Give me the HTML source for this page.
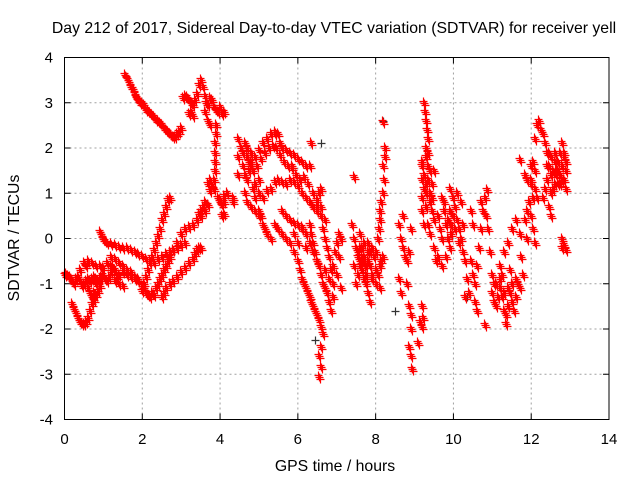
<!DOCTYPE html>
<html><head><meta charset="utf-8"><style>
html,body{margin:0;padding:0;background:#fff;}
svg{display:block;font-family:"Liberation Sans",sans-serif;}
</style></head><body>
<svg id="chart" width="640" height="480" viewBox="0 0 640 480" xmlns="http://www.w3.org/2000/svg">
<rect x="0" y="0" width="640" height="480" fill="#fff"/>
<text x="334" y="33" text-anchor="middle" font-size="15.8" fill="#000">Day 212 of 2017, Sidereal Day-to-day VTEC variation (SDTVAR) for receiver yell</text>
<text x="335" y="471" text-anchor="middle" font-size="15.8" fill="#000">GPS time / hours</text>
<text x="19" y="238" text-anchor="middle" font-size="15.8" fill="#000" transform="rotate(-90 19 238)">SDTVAR / TECUs</text>
<g id="grid"></g>
<g id="ticks"></g>
<g id="marks"></g>
<rect x="64.5" y="57.5" width="544.5" height="362" fill="none" stroke="#000" stroke-width="1"/>
</svg>
<script>
const xTicks = [0, 2, 4, 6, 8, 10, 12, 14];
const yTicks = [-4, -3, -2, -1, 0, 1, 2, 3, 4];
// SDTVAR series (red): times (hours) and values (TECU)
const times = [
1.55,1.6,1.65,1.7,1.75,1.8,1.85,1.9,1.95,2.0,2.05,2.1,2.15,2.2,2.25,2.3,2.35,2.4,2.45,2.5,2.55,2.6,2.65,2.7,2.75,2.8,2.85,2.9,2.95,3.0,
3.05,3.1,3.15,3.2,3.25,3.3,3.35,3.4,3.45,3.5,3.55,3.6,3.65,3.7,3.75,3.8,3.85,3.9,3.95,4.0,4.05,4.1,3.2,3.25,3.3,3.6,3.7,3.75,
3.9,3.9,3.88,3.88,3.87,3.86,3.85,3.8,3.75,3.7,3.75,3.85,3.95,4.0,4.05,4.1,3.6,3.55,3.5,3.45,4.05,4.1,4.33,4.33,4.0,4.1,4.18,
0,0.05,0.1,0.15,0.2,0.25,0.3,0.35,0.4,0.45,0.5,0.55,0.6,0.65,0.7,0.75,0.8,0.85,0.9,0.95,1.0,1.05,1.1,1.15,1.2,1.25,1.3,1.35,1.4,1.5,1.6,1.7,1.8,1.9,2.0,2.05,2.1,2.15,2.2,2.25,
0.5,0.6,0.7,0.8,0.9,1.0,1.1,1.2,
0.2,0.25,0.3,0.35,0.4,0.45,0.5,0.55,0.6,0.65,0.7,0.75,0.8,0.85,0.9,0.6,0.65,0.7,0.75,0.8,0.55,0.4,0.35,
0.9,0.95,1.0,1.05,1.1,1.2,1.3,1.4,1.5,1.6,1.7,1.8,1.9,2.0,2.1,2.2,2.3,2.4,2.5,2.6,2.7,2.8,2.9,3.0,3.1,
2.0,2.05,2.1,2.15,2.2,2.25,2.3,2.35,2.4,2.45,2.5,2.55,2.6,2.65,2.7,
2.3,2.35,2.4,2.45,2.5,2.55,2.6,2.65,2.7,2.8,2.9,3.0,3.1,3.2,3.3,3.4,3.5,3.6,3.7,
2.5,2.55,2.6,2.7,2.8,2.9,3.0,3.1,3.2,3.3,3.35,3.4,3.45,3.5,
1.2,1.3,1.4,1.5,1.6,1.7,1.8,1.9,1.3,1.4,1.5,
4.55,4.6,4.65,4.7,4.8,4.9,5.0,5.1,5.2,5.3,5.4,5.5,5.55,5.6,5.7,5.8,5.9,6.0,6.1,6.2,6.3,
4.6,4.65,4.7,4.75,4.8,4.9,5.0,5.1,5.2,5.3,5.4,5.5,5.6,5.7,5.8,5.9,6.0,6.1,6.2,6.3,6.4,6.5,6.6,6.7,
5.0,5.05,5.1,5.15,5.2,5.3,5.4,5.5,5.6,5.7,5.8,5.9,6.0,6.05,6.1,6.15,6.2,6.25,6.3,6.35,6.4,6.45,6.5,6.55,6.6,6.65,6.6,6.55,6.6,6.55,
6.3,6.35,6.4,6.45,6.5,6.55,6.6,6.65,6.7,6.75,6.8,6.85,6.9,6.9,6.85,6.8,6.75,6.7,6.65,
4.45,4.45,4.45,6.0,6.1,6.2,5.9,5.4,5.85,6.35,6.55,6.6,6.5,4.9,5.0,4.85,
4.7,4.75,4.8,4.85,4.95,5.05,5.15,5.25,5.35,5.45,5.55,5.65,5.75,5.85,5.95,6.05,6.15,6.25,6.4,6.5,6.6,
4.65,4.7,4.8,4.9,5.0,5.6,5.7,5.8,5.9,6.0,6.1,6.2,6.3,6.4,6.5,6.7,6.8,6.9,6.95,
7.0,7.05,7.0,7.1,7.05,7.1,
7.4,7.45,7.5,7.55,7.6,7.65,7.7,7.75,7.8,7.85,7.9,7.95,8.0,8.05,8.1,8.15,8.2,7.65,7.7,7.6,7.75,7.8,7.85,7.5,7.45,8.0,8.1,7.9,7.44,
7.55,7.6,7.65,7.7,7.75,7.8,7.85,7.9,7.55,7.6,7.7,7.8,
8.2,8.25,8.25,8.2,8.22,8.18,8.15,8.12,8.1,8.08,8.05,8.0,
8.6,8.65,8.7,8.75,8.8,8.85,8.9,8.7,8.6,8.65,8.8,8.85,8.9,8.9,8.85,8.9,8.93,
9.15,9.2,9.22,9.1,9.2,
9.25,9.28,9.3,9.32,9.35,9.3,9.3,9.35,9.4,9.2,9.25,9.2,9.3,9.4,9.45,9.5,9.35,9.4,9.5,9.55,9.6,9.45,9.2,9.25,
9.2,9.25,9.3,9.35,9.4,9.3,9.2,9.35,9.45,9.5,
9.7,9.75,9.8,9.85,9.9,9.95,10.0,10.05,10.1,10.15,10.2,10.25,10.0,9.9,10.1,10.2,9.8,9.7,10.3,10.35,10.4,10.3,
9.6,9.65,9.75,9.85,9.95,10.05,10.15,10.25,9.7,9.9,
10.45,10.5,10.55,10.6,10.65,10.7,10.75,10.8,10.7,10.85,10.9,10.95,11.0,11.05,10.55,10.6,10.81,10.5,10.45,10.86,
11.0,11.05,11.1,11.15,11.2,11.25,11.3,11.35,11.4,11.45,11.5,11.55,11.6,11.65,11.2,11.3,11.4,11.5,11.6,11.7,11.75,11.8,11.7,11.35,
11.1,11.2,11.3,11.4,11.5,11.6,11.25,11.45,
11.85,11.9,11.95,12.0,12.05,12.1,12.15,12.05,12.1,11.9,12.0,
12.1,12.15,12.2,12.25,12.3,12.35,12.4,12.05,12.1,12.0,11.71,11.85,11.9,12.0,
12.4,12.45,12.5,12.55,12.6,12.65,12.7,12.75,12.8,12.85,12.9,12.6,12.7,12.8,12.5,12.45,12.5,12.3,12.35,12.85,12.9,12.75,
12.4,12.5,12.6,12.7,12.8,12.9,12.45,12.55,12.65,12.75,12.85,
12.8,12.85,12.9,12.8
];
const values = [
3.62,3.55,3.45,3.35,3.3,3.2,3.12,3.05,3.0,3.0,2.95,2.85,2.82,2.78,2.72,2.68,2.62,2.6,2.55,2.5,2.45,2.4,2.35,2.3,2.28,2.25,2.25,2.3,2.35,2.45,
3.1,3.15,3.12,3.05,3.0,2.95,3.05,3.2,3.4,3.5,3.35,3.15,3.0,2.95,3.1,3.05,2.9,2.85,2.8,2.9,2.75,2.8,2.75,2.8,2.7,2.8,2.6,2.5,
2.5,2.3,2.1,1.9,1.7,1.5,1.3,1.15,1.05,1.2,1.3,1.1,0.9,0.8,0.75,0.8,0.8,0.7,0.6,0.55,0.5,0.55,0.9,0.8,0.85,0.95,1.0,
-0.8,-0.78,-0.82,-0.85,-0.95,-1.0,-0.9,-0.85,-0.95,-1.05,-1.0,-0.95,-0.9,-0.95,-0.9,-0.85,-0.9,-0.95,-0.9,-0.85,-0.8,-0.9,-0.95,-0.85,-0.75,-0.65,-0.7,-0.85,-0.8,-0.75,-0.8,-0.85,-0.9,-0.95,-1.05,-1.1,-1.2,-1.25,-1.3,-1.2,
-0.55,-0.5,-0.55,-0.6,-0.6,-0.65,-0.55,-0.6,
-1.45,-1.55,-1.65,-1.75,-1.85,-1.9,-1.9,-1.85,-1.75,-1.6,-1.45,-1.35,-1.25,-1.15,-1.05,-1.1,-1.2,-1.3,-1.2,-1.0,-0.6,-0.7,-0.85,
0.15,0.1,0.0,-0.05,-0.1,-0.12,-0.15,-0.18,-0.2,-0.22,-0.25,-0.3,-0.35,-0.38,-0.45,-0.5,-0.55,-0.45,-0.4,-0.35,-0.3,-0.25,-0.2,-0.15,-0.1,
-1.15,-1.0,-0.85,-0.7,-0.55,-0.4,-0.25,-0.1,0.05,0.2,0.4,0.55,0.7,0.85,0.9,
-1.25,-1.1,-1.0,-0.9,-0.8,-0.7,-0.6,-0.5,-0.4,-0.25,-0.1,0.1,0.2,0.25,0.3,0.4,0.5,0.6,0.75,
-1.3,-1.2,-1.1,-1.0,-0.95,-0.85,-0.75,-0.65,-0.55,-0.45,-0.35,-0.25,-0.2,-0.2,
-0.4,-0.45,-0.55,-0.6,-0.7,-0.75,-0.85,-0.9,-0.95,-1.0,-1.05,
2.0,1.9,2.1,2.0,1.9,1.8,1.95,2.1,2.2,2.3,2.35,2.3,2.1,2.0,1.95,1.9,1.85,1.75,1.7,1.6,1.6,
1.6,1.4,1.3,1.5,1.7,1.2,1.0,0.9,1.05,1.1,1.25,1.3,1.25,1.2,1.3,1.25,1.15,1.0,0.9,0.8,0.7,0.6,0.5,0.4,
0.6,0.5,0.3,0.2,0.1,0.0,0.3,0.2,0.1,0.0,-0.1,-0.3,-0.5,-0.7,-0.9,-1.0,-1.1,-1.2,-1.3,-1.4,-1.5,-1.6,-1.7,-1.8,-1.95,-2.1,-2.4,-2.6,-2.85,-3.05,
0.3,0.1,-0.1,-0.3,-0.5,-0.6,-0.8,-1.0,-1.1,-1.2,-1.4,-1.6,-1.3,-1.0,-0.7,-0.4,-0.2,0.0,0.2,
2.2,1.8,1.4,-0.1,0.2,-0.2,0.1,2.3,1.6,2.1,1.0,1.1,0.7,0.9,1.3,1.1,
1.8,1.7,1.6,1.5,1.6,1.75,1.9,2.0,2.05,2.0,1.85,1.7,1.6,1.55,1.4,1.3,1.35,1.2,1.0,0.85,0.7,
1.0,0.8,0.7,0.6,0.5,0.6,0.5,0.4,0.35,0.3,0.25,0.1,-0.1,-0.3,-0.5,-0.7,-0.9,-0.6,-0.3,
-0.1,-0.4,-0.8,-1.1,0.1,0.0,
0.3,0.0,-0.2,-0.4,-0.5,-0.45,-0.55,-0.6,-0.5,-0.3,-0.2,-0.4,-0.7,-0.8,-0.6,-0.5,-0.4,-0.2,-0.1,0.1,-1.0,-1.2,-1.4,-1.0,-0.6,-1.0,-1.1,-0.9,1.37,
-0.3,-0.6,-0.7,-0.4,-0.8,-0.3,-0.6,-0.8,-0.8,-0.2,-0.9,-0.1,
2.58,2.0,1.8,1.6,1.3,1.0,0.8,0.6,0.4,0.2,0.0,-0.3,
0.3,0.0,-0.2,-0.4,-0.5,-0.3,0.2,0.5,-0.9,-1.2,-1.0,-1.5,-1.7,-2.0,-2.4,-2.6,-2.88,
-1.85,-1.95,-1.75,-2.3,-1.5,
3.0,2.8,2.6,2.4,2.2,2.0,1.8,1.6,1.5,1.3,1.1,0.9,1.0,0.8,0.6,0.4,0.3,0.1,-0.2,-0.5,-0.4,1.2,0.6,0.3,
1.6,1.4,1.2,1.9,1.0,0.7,1.7,1.3,0.9,1.5,
0.9,0.6,0.3,0.0,-0.2,0.1,0.5,0.7,0.4,0.2,0.0,-0.3,0.9,1.1,1.0,0.8,-0.4,-0.6,-0.5,-0.9,-1.2,-1.3,
0.5,0.2,0.8,0.4,0.3,0.2,-0.1,0.3,0.0,0.6,
-0.5,-0.8,-1.0,-0.6,-0.2,0.2,0.6,0.9,0.8,0.5,0.2,-0.3,-0.8,-1.0,-1.4,-1.6,-1.91,0.3,0.6,1.07,
-1.2,-1.4,-1.5,-1.3,-1.1,-1.3,-1.6,-1.7,-1.5,-1.2,-1.4,-1.6,-1.3,-1.0,-0.6,-0.3,-0.1,0.2,0.4,0.1,-0.4,-0.8,-1.1,-1.9,
-1.0,-0.9,-1.2,-1.1,-1.0,-0.9,-0.8,-0.7,
0.4,0.6,0.8,0.5,0.9,1.1,0.9,0.2,-0.1,0.0,1.2,
2.2,2.5,2.6,2.4,2.3,2.1,1.9,1.7,1.5,1.3,1.73,1.4,1.3,1.6,
1.3,1.6,1.8,1.5,1.2,1.4,1.7,1.9,1.6,1.3,1.1,1.9,1.2,2.1,1.0,0.7,0.5,0.9,1.1,1.8,1.5,1.4,
1.6,1.4,1.7,1.5,1.3,1.7,1.9,1.1,1.5,1.2,1.9,
0.0,-0.15,-0.25,-0.2
];
// second (grey) series, sparse
const times2 = [8.93, 8.2, 10.35, 6.6, 4.45, 6.45, 8.5];
const values2 = [-2.88, 2.6, -1.3, 2.1, 1.4, -2.25, -1.6];

const X0 = 64.5, X1 = 609, Y0 = 419.5, Y1 = 57.5;
function xs(t){ return X0 + (t - 0) / (14 - 0) * (X1 - X0); }
function ys(v){ return Y0 - (v + 4) / 8 * (Y0 - Y1); }
const NS = "http://www.w3.org/2000/svg";
const grid = document.getElementById('grid');
const ticks = document.getElementById('ticks');
const marks = document.getElementById('marks');
function mk(tag, attrs, parent){
  const e = document.createElementNS(NS, tag);
  for (const k in attrs) e.setAttribute(k, attrs[k]);
  parent.appendChild(e);
  return e;
}
xTicks.forEach(function(t){
  const x = xs(t);
  if (t > 0 && t < 14) {
    const g = mk('line', {x1:x, y1:Y0, x2:x, y2:Y1, stroke:'#a0a0a0', 'stroke-width':1, 'stroke-dasharray':'2,3'}, grid);
    
    
  }
  const tk = mk('path', {d:'M'+x+' '+Y0+'v-6M'+x+' '+Y1+'v6', stroke:'#000', 'stroke-width':1}, ticks);
  
  
  const lb = mk('text', {x:x, y:444, 'text-anchor':'middle', 'font-size':'15', fill:'#000'}, ticks);
  lb.textContent = String(t);
  
  
});
yTicks.forEach(function(v){
  const y = ys(v);
  if (v > -4 && v < 4) {
    const g = mk('line', {x1:X0, y1:y, x2:X1, y2:y, stroke:'#a0a0a0', 'stroke-width':1, 'stroke-dasharray':'2,3'}, grid);
    
    
  }
  const tk = mk('path', {d:'M'+X0+' '+y+'h6M'+X1+' '+y+'h-6', stroke:'#000', 'stroke-width':1}, ticks);
  
  
  const lb = mk('text', {x:53, y:y+5, 'text-anchor':'end', 'font-size':'15', fill:'#000'}, ticks);
  lb.textContent = String(v);
  
  
});
// marker cluster: each sample drawn as a thick "+" blob like the overlapping gnuplot points
function plus(t, v, color, thick){
  const x = Math.round(xs(t)) + 0.5, y = Math.round(ys(v)) + 0.5;
  let d = 'M'+(x-4)+' '+y+'h8M'+x+' '+(y-4)+'v8';
  if (thick) {
    d += 'M'+(x-3)+' '+(y+2)+'h8M'+(x+1)+' '+(y-2)+'v8';
    d += 'M'+(x-5)+' '+(y-2)+'h8M'+(x-1)+' '+(y-6)+'v8';
  }
  return mk('path', {d:d, stroke:color, 'stroke-width':1.2}, marks);
}
for (let i = 0; i < times2.length; i++) {
  const p = plus(times2[i], values2[i], '#333', false);
  
  
}
for (let i = 0; i < times.length; i++) {
  const p = plus(times[i], values[i], '#ff0000', true);
  
  
}
</script>
</body></html>
